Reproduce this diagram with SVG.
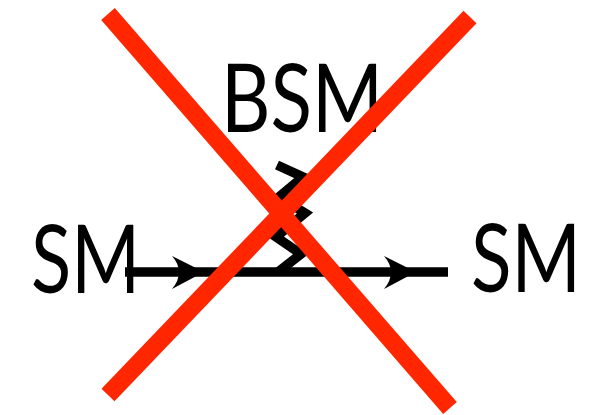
<svg xmlns="http://www.w3.org/2000/svg" width="606" height="415" viewBox="0 0 606 415">
<style>
.lbl{font-family:"Lato","Open Sans","DejaVu Sans",sans-serif;font-size:95px;fill:#000;}
.ln{stroke:#000;stroke-width:9.5;fill:none;}
.x{stroke:#ff2600;stroke-width:18;stroke-linecap:butt;}
</style>
<defs>
<path id="arrow" d="M0,0 L-32,-16 Q-18,0 -32,17 Z" fill="#000"/>
</defs>
<rect width="606" height="415" fill="#fff"/>
<g id="connectors">
<line class="ln" x1="125" y1="272" x2="448" y2="272"/>
<use href="#arrow" x="204" y="272"/>
<use href="#arrow" x="416" y="272"/>
<polyline class="ln" stroke-linejoin="miter" points="277,165 303,177 279,197 305,213 276,237 301,254 278,272"/>
</g>
<g id="node-bsm"><text class="lbl" x="221" y="132" textLength="162" lengthAdjust="spacingAndGlyphs">BSM</text></g>
<g id="node-sm-left"><text class="lbl" x="31" y="293" textLength="109" lengthAdjust="spacingAndGlyphs">SM</text></g>
<g id="node-sm-right"><text class="lbl" x="471" y="292" textLength="110" lengthAdjust="spacingAndGlyphs">SM</text></g>
<g id="cross">
<line class="x" x1="108" y1="14" x2="450" y2="408"/>
<line class="x" x1="470" y1="17" x2="108" y2="395"/>
</g>
</svg>
